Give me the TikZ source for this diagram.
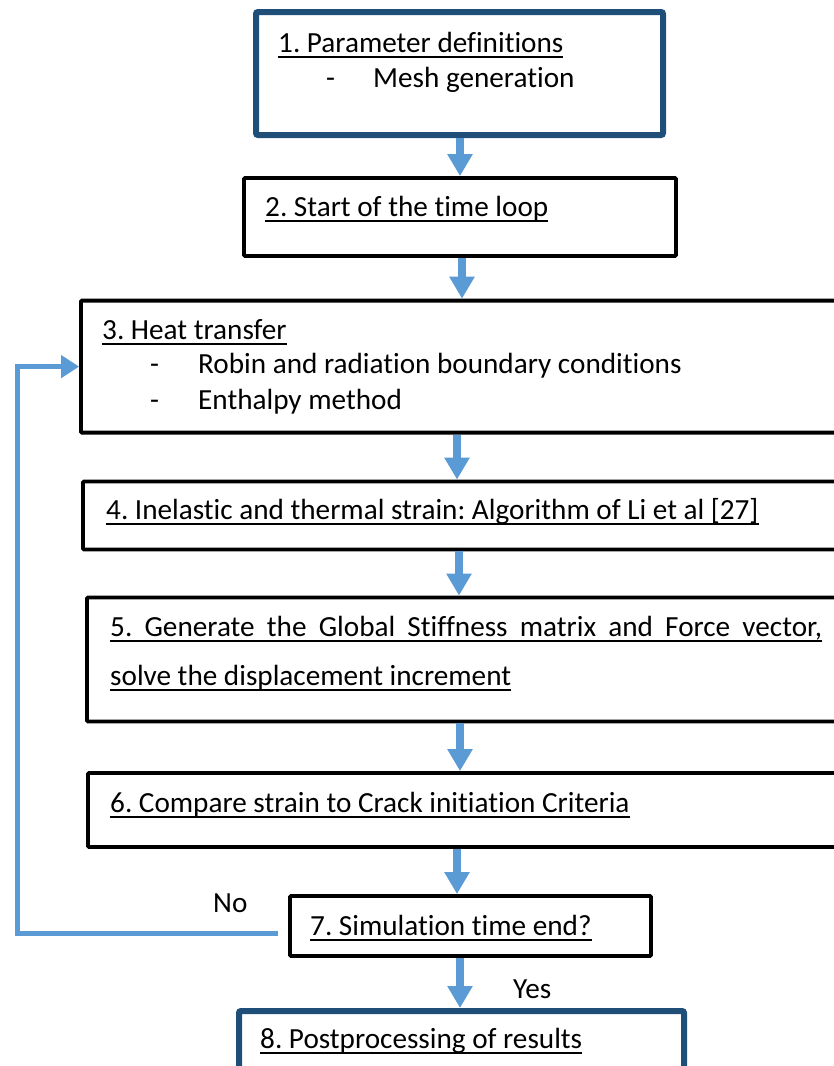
\documentclass[tikz,border=0pt]{standalone}
\usepackage{fontspec}
\setmainfont{Carlito}[Ligatures=NoCommon]
\frenchspacing
\usetikzlibrary{arrows.meta}
\definecolor{darkblue}{HTML}{1F4E79}
\definecolor{arrowblue}{HTML}{5B9BD5}
\newcommand\myul[1]{\setbox0=\hbox{#1}\rlap{\rule[-5.5pt]{\wd0}{2pt}}\box0}
\tikzset{
  blackbox/.style={draw=black, line width=3.8pt, inner sep=0pt, rounded corners=1pt},
  bluebox/.style={draw=darkblue, line width=6pt, inner sep=0pt, rounded corners=2pt},
  txt/.style={anchor=base west, inner sep=0pt, font=\fontsize{29.2}{35}\selectfont},
  flow/.style={draw=arrowblue, line width=8pt, -{Triangle[length=22pt,width=24pt]}},
  loopline/.style={draw=arrowblue, line width=5pt, -{Triangle[length=18pt,width=22pt]}}
}
\begin{document}
\begin{tikzpicture}[x=1pt,y=-1pt]
\useasboundingbox (0,0) rectangle (834,1066);
\clip (0,0) rectangle (834,1066);
% boxes
\node[bluebox, minimum width=407pt, minimum height=123pt] (b1) at (459.5,73.5) {};
\node[blackbox, minimum width=432pt, minimum height=78pt] (b2) at (460,217) {};
\node[blackbox, minimum width=819pt, minimum height=132pt] (b3) at (490.5,366.6) {};
\node[blackbox, minimum width=817pt, minimum height=68pt] (b4) at (491.5,515.5) {};
\node[blackbox, minimum width=813pt, minimum height=124pt] (b5) at (493.5,659.5) {};
\node[blackbox, minimum width=812pt, minimum height=74pt] (b6) at (494,810) {};
\node[blackbox, minimum width=361pt, minimum height=60pt] (b7) at (470.5,926) {};
\node[bluebox, minimum width=445pt, minimum height=89pt] (b8) at (461.5,1055.5) {};
% texts
\node[txt] (t1) at (278,52) {\myul{1. Parameter definitions}};
\node[txt] (t1d) at (326,87) {-};
\node[txt] (t1b) at (373,87) {Mesh generation};
\node[txt] (t2) at (265,216) {\myul{2. Start of the time loop}};
\node[txt] (t3) at (102,339) {\myul{3. Heat transfer}};
\node[txt] (t3d1) at (150,373) {-};
\node[txt] (t3a) at (198,373) {Robin and radiation boundary conditions};
\node[txt] (t3d2) at (150,409) {-};
\node[txt] (t3b) at (198,409) {Enthalpy method};
\node[txt] (t4) at (106,519) {\myul{4. Inelastic and thermal strain: Algorithm of Li et al [27]}};
\node[txt] (t5a) at (110,636) {\myul{\makebox[712pt][s]{5. Generate the Global Stiffness matrix and Force vector,}}};
\node[txt] (t5b) at (110,685) {\myul{solve the displacement increment}};
\node[txt] (t6) at (110,812) {\myul{6. Compare strain to Crack initiation Criteria}};
\node[txt] (t7) at (310,935) {\myul{7. Simulation time end?}};
\node[txt] (t8) at (260,1048) {\myul{8. Postprocessing of results}};
\node[txt] (no) at (213,912) {No};
\node[txt] (yes) at (513,998) {Yes};
% arrows
\draw[flow] (b1.south -| 460,0) -- (b2.north -| 460,0);
\draw[flow] (b2.south -| 462,0) -- (b3.north -| 462,0);
\draw[flow] (b3.south -| 457,0) -- (b4.north -| 457,0);
\draw[flow] (b4.south -| 459,0) -- (b5.north -| 459,0);
\draw[flow] (b5.south -| 460,0) -- (b6.north -| 460,0);
\draw[flow] (b6.south -| 457,0) -- (b7.north -| 457,0);
\draw[flow] (b7.south -| 460,0) -- (b8.north -| 460,0);
% loop back
\coordinate (noend) at (278,933);
\coordinate (lc) at (17,933);
\draw[loopline] (noend) -- (lc) |- (b3.west);
\end{tikzpicture}
\end{document}
